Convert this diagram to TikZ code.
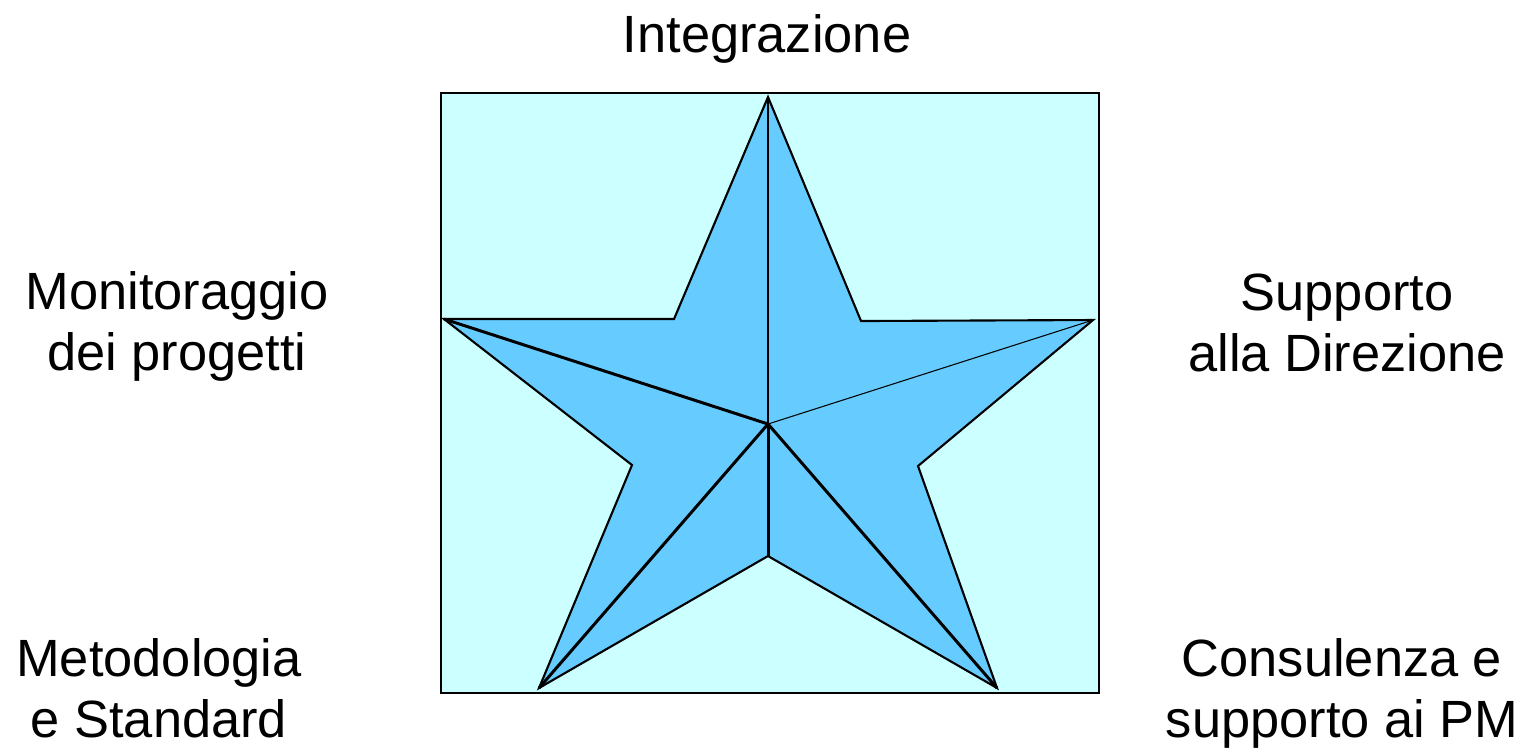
\documentclass[tikz,border=0pt]{standalone}
\usepackage{fontspec}
\setmainfont{Liberation Sans}
\usepackage{tikz}
\usetikzlibrary{positioning}
\definecolor{PanelCyan}{HTML}{CCFFFF}
\definecolor{StarBlue}{HTML}{66CCFF}
\tikzset{
  panel/.style={draw=black, fill=PanelCyan, line width=0.6pt},
  starshape/.style={draw=black, fill=StarBlue, line width=0.6pt, line join=miter},
  spoke/.style={draw=black, line width=0.85pt},
  thinspoke/.style={draw=black, line width=0.3pt},
  label/.style={align=center, anchor=base, inner sep=0pt,
    font=\fontsize{14.9pt}{17.1pt}\selectfont}
}
\begin{document}
\begin{tikzpicture}[x=0.01cm, y=-0.01cm]
\useasboundingbox (0,0) rectangle (1531,750);

% background square
\draw[panel] (441,93) rectangle (1099,693);

% star points
\coordinate (top)    at (768,97);
\coordinate (urin)   at (861,321);
\coordinate (rout)   at (1093,320);
\coordinate (rin)    at (918,466);
\coordinate (brout)  at (997,688);
\coordinate (bin)    at (768,556);
\coordinate (blout)  at (539,688);
\coordinate (lin)    at (632,465);
\coordinate (lout)   at (444,319);
\coordinate (ulin)   at (674,319);
\coordinate (centre) at (768,424);

\draw[starshape] (top) -- (urin) -- (rout) -- (rin) -- (brout) -- (bin)
  -- (blout) -- (lin) -- (lout) -- (ulin) -- cycle;

\draw[thinspoke] (centre) -- (top);
\draw[thinspoke] (centre) -- (rout);
\draw[spoke]     (centre) -- (lout);
\draw[spoke]     (centre) -- (blout);
\draw[spoke]     (centre) -- (brout);
\draw[spoke]     (centre) -- (bin);

% labels (base = last line)
\node[label] (integr)  at (767,52)   {Integrazione};
\node[label] (monit)   at (177,370)  {Monitoraggio\\dei progetti};
\node[label] (suppdir) at (1347,371) {Supporto\\alla Direzione};
\node[label] (metod)   at (159,737)  {Metodologia\\e Standard};
\node[label] (consul)  at (1342,737) {Consulenza e\\supporto ai PM};

\end{tikzpicture}
\end{document}
